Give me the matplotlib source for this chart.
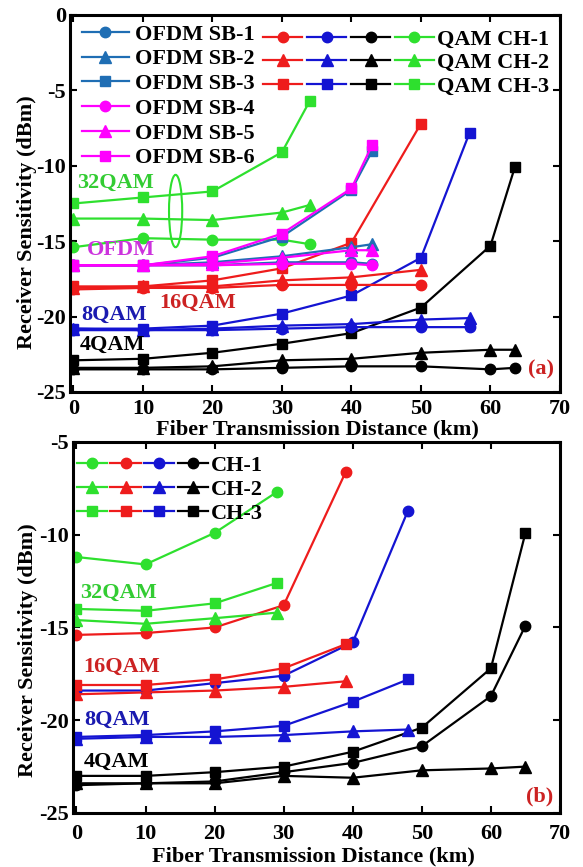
import matplotlib
matplotlib.use('Agg')
import matplotlib.pyplot as plt
from matplotlib.patches import Ellipse
from matplotlib.lines import Line2D
from matplotlib.legend_handler import HandlerTuple

plt.rcParams['font.family'] = ['Liberation Serif', 'DejaVu Serif']
plt.rcParams['font.weight'] = 'bold'
plt.rcParams['axes.unicode_minus'] = False

# ---------------- panel (a) ----------------
a_x_32qam = [0, 10, 20, 30, 34]
a_32qam_ch1 = [-15.4, -14.8, -14.9, -14.9, -15.2]
a_32qam_ch2 = [-13.5, -13.5, -13.6, -13.1, -12.6]
a_32qam_ch3 = [-12.5, -12.1, -11.7, -9.1, -5.7]

a_x_ofdm = [0, 10, 20, 30, 40, 43]
a_ofdm_sb1 = [-16.6, -16.6, -16.6, -16.4, -16.4, -16.5]
a_ofdm_sb2 = [-16.6, -16.6, -16.4, -16.0, -15.4, -15.2]
a_ofdm_sb3 = [-16.6, -16.6, -16.1, -14.7, -11.6, -9.0]
a_ofdm_sb4 = [-16.6, -16.6, -16.6, -16.5, -16.5, -16.6]
a_ofdm_sb5 = [-16.6, -16.6, -16.5, -16.1, -15.6, -15.6]
a_ofdm_sb6 = [-16.6, -16.6, -16.0, -14.5, -11.5, -8.6]

a_x_16qam = [0, 10, 20, 30, 40, 50]
a_16qam_ch1 = [-18.2, -18.1, -18.1, -17.9, -17.9, -17.9]
a_16qam_ch2 = [-18.1, -18.0, -18.0, -17.6, -17.4, -16.9]
a_16qam_ch3 = [-18.0, -18.0, -17.6, -16.8, -15.1, -7.2]

a_x_8qam = [0, 10, 20, 30, 40, 50, 57]
a_8qam_ch1 = [-20.9, -20.9, -20.9, -20.8, -20.7, -20.7, -20.7]
a_8qam_ch2 = [-20.8, -20.9, -20.8, -20.6, -20.5, -20.2, -20.1]
a_8qam_ch3 = [-20.8, -20.8, -20.6, -19.8, -18.6, -16.1, -7.8]

a_x_4qam = [0, 10, 20, 30, 40, 50, 60, 63.5]
a_4qam_ch1 = [-23.5, -23.5, -23.5, -23.4, -23.3, -23.3, -23.5, -23.4]
a_4qam_ch2 = [-23.4, -23.4, -23.3, -22.9, -22.8, -22.4, -22.2, -22.2]
a_4qam_ch3 = [-22.9, -22.8, -22.4, -21.8, -21.1, -19.4, -15.3, -10.1]

# ---------------- panel (b) ----------------
b_x_32qam = [0, 10, 20, 29]
b_32qam_ch1 = [-11.2, -11.6, -9.9, -7.7]
b_32qam_ch2 = [-14.6, -14.8, -14.5, -14.2]
b_32qam_ch3 = [-14.0, -14.1, -13.7, -12.6]

b_x_16qam = [0, 10, 20, 30, 39]
b_16qam_ch1 = [-15.4, -15.3, -15.0, -13.8, -6.6]
b_16qam_ch2 = [-18.6, -18.5, -18.4, -18.2, -17.9]
b_16qam_ch3 = [-18.1, -18.1, -17.8, -17.2, -15.9]

b_x_8qam = [0, 10, 20, 30, 40, 48]
b_8qam_ch1 = [-18.4, -18.4, -18.0, -17.6, -15.8, -8.7]
b_8qam_ch2 = [-21.0, -20.9, -20.9, -20.8, -20.6, -20.5]
b_8qam_ch3 = [-20.9, -20.8, -20.6, -20.3, -19.0, -17.8]

b_x_4qam = [0, 10, 20, 30, 40, 50, 60, 65]
b_4qam_ch1 = [-23.5, -23.4, -23.3, -22.8, -22.3, -21.4, -18.7, -14.9]
b_4qam_ch2 = [-23.4, -23.4, -23.4, -23.0, -23.1, -22.7, -22.6, -22.5]
b_4qam_ch3 = [-23.0, -23.0, -22.8, -22.5, -21.7, -20.4, -17.2, -9.9]

x_ticks = [0, 10, 20, 30, 40, 50, 60, 70]
a_y_ticks = [-25, -20, -15, -10, -5, 0]
b_y_ticks = [-25, -20, -15, -10, -5]

# colours
GREEN = '#2EE02E'
RED = '#EE1C1C'
BLUE = '#1414D2'
BLACK = '#000000'
SBLUE = '#1F6EB4'
MAGENTA = '#FF00FF'
markers = ['o', '^', 's']
ms = {'o': 7.5, '^': 8, 's': 7}


def draw(ax, x, y, color, marker):
    return ax.plot(x, y, color=color, marker=marker, ms=ms[marker], lw=1.6,
                   mec=color, mfc=color)[0]


def style_axes(ax, yticks, ylim, xpad):
    ax.set_xlim(-0.5, 70)
    ax.set_ylim(*ylim)
    ax.set_xticks(x_ticks)
    ax.set_yticks(yticks)
    ax.tick_params(direction='in', length=5, width=1.5, top=True, right=True,
                   labelsize=16, pad=3)
    ax.tick_params(axis='x', pad=xpad)
    for s in ax.spines.values():
        s.set_linewidth(2.2)
    ax.set_xlabel('Fiber Transmission Distance (km)', fontsize=16, fontweight='bold')
    ax.set_ylabel('Receiver Sensitivity (dBm)', fontsize=16, fontweight='bold')
    ax.xaxis.label.set_va('center')
    ax.yaxis.label.set_va('center')


fig = plt.figure(figsize=(5.83, 8.67), dpi=100)
ax1 = fig.add_axes([0.120, 0.5479, 0.8405, 0.4348])
ax2 = fig.add_axes([0.1252, 0.0623, 0.8353, 0.4279])

# ---- (a) ----
for y, m in zip([a_4qam_ch1, a_4qam_ch2, a_4qam_ch3], markers):
    draw(ax1, a_x_4qam, y, BLACK, m)
for y, m in zip([a_8qam_ch1, a_8qam_ch2, a_8qam_ch3], markers):
    draw(ax1, a_x_8qam, y, BLUE, m)
for y, m in zip([a_16qam_ch1, a_16qam_ch2, a_16qam_ch3], markers):
    draw(ax1, a_x_16qam, y, RED, m)
for y, m in zip([a_32qam_ch1, a_32qam_ch2, a_32qam_ch3], markers):
    draw(ax1, a_x_32qam, y, GREEN, m)
for y, m in zip([a_ofdm_sb1, a_ofdm_sb2, a_ofdm_sb3], markers):
    draw(ax1, a_x_ofdm, y, SBLUE, m)
for y, m in zip([a_ofdm_sb4, a_ofdm_sb5, a_ofdm_sb6], markers):
    draw(ax1, a_x_ofdm, y, MAGENTA, m)

style_axes(ax1, a_y_ticks, (-25, 0), xpad=5)
ax1.xaxis.set_label_coords(0.505, -0.099)
ax1.yaxis.set_label_coords(-0.088, 0.45)

ax1.add_patch(Ellipse((14.7, -13.0), 1.9, 4.8, fill=False, ec=GREEN, lw=1.5))
lbl = dict(fontsize=16, fontweight='bold', ha='left', va='center')
ax1.text(0.6, -11.15, '32QAM', color='#33CC33', **lbl)
ax1.text(1.9, -15.6, 'OFDM', color='#CC33DD', **lbl)
ax1.text(12.4, -19.1, '16QAM', color='#CC2222', **lbl)
ax1.text(1.1, -19.9, '8QAM', color='#1A1AB0', **lbl)
ax1.text(0.9, -21.9, '4QAM', color=BLACK, **lbl)
ax1.text(67.2, -23.5, '(a)', color='#CC2222', fontsize=16, fontweight='bold',
         ha='center', va='center')

ofdm_names = ['OFDM SB-%d' % i for i in range(1, 7)]
ofdm_cols = [SBLUE] * 3 + [MAGENTA] * 3
ofdm_handles = [Line2D([], [], color=c, marker=m, ms=ms[m], lw=1.6)
                for c, m in zip(ofdm_cols, markers * 2)]
leg1 = ax1.legend(ofdm_handles, ofdm_names, loc='upper left',
                  bbox_to_anchor=(0.0245, 0.976), frameon=False, fontsize=16,
                  handlelength=2.1, handletextpad=0.3, labelspacing=0.19,
                  borderpad=0, borderaxespad=0)
ax1.add_artist(leg1)

qam_names = ['QAM CH-1', 'QAM CH-2', 'QAM CH-3']
qam_handles = [tuple(Line2D([], [], color=c, marker=m, ms=ms[m], lw=1.6)
                     for c in [RED, BLUE, BLACK, GREEN]) for m in markers]
ax1.legend(qam_handles, qam_names, loc='upper left',
           bbox_to_anchor=(0.394, 0.963), frameon=False, fontsize=16,
           handlelength=7.7, handletextpad=0.15, labelspacing=0.13,
           borderpad=0, borderaxespad=0,
           handler_map={tuple: HandlerTuple(ndivide=None, pad=0.2)})

# ---- (b) ----
for y, m in zip([b_4qam_ch1, b_4qam_ch2, b_4qam_ch3], markers):
    draw(ax2, b_x_4qam, y, BLACK, m)
for y, m in zip([b_8qam_ch1, b_8qam_ch2, b_8qam_ch3], markers):
    draw(ax2, b_x_8qam, y, BLUE, m)
for y, m in zip([b_16qam_ch1, b_16qam_ch2, b_16qam_ch3], markers):
    draw(ax2, b_x_16qam, y, RED, m)
for y, m in zip([b_32qam_ch1, b_32qam_ch2, b_32qam_ch3], markers):
    draw(ax2, b_x_32qam, y, GREEN, m)

style_axes(ax2, b_y_ticks, (-25, -5), xpad=8)
ax2.xaxis.set_label_coords(0.494, -0.116)
ax2.yaxis.set_label_coords(-0.092, 0.44)

ax2.text(0.6, -13.15, '32QAM', color='#33CC33', **lbl)
ax2.text(1.0, -17.1, '16QAM', color='#CC2222', **lbl)
ax2.text(1.1, -20.0, '8QAM', color='#1A1AB0', **lbl)
ax2.text(1.0, -22.25, '4QAM', color=BLACK, **lbl)
ax2.text(67.0, -24.1, '(b)', color='#CC2222', fontsize=16, fontweight='bold',
         ha='center', va='center')

ch_names = ['CH-1', 'CH-2', 'CH-3']
ch_handles = [tuple(Line2D([], [], color=c, marker=m, ms=ms[m], lw=1.6)
                    for c in [GREEN, RED, BLUE, BLACK]) for m in markers]
ax2.legend(ch_handles, ch_names, loc='upper left',
           bbox_to_anchor=(0.008, 0.965), frameon=False, fontsize=16,
           handlelength=5.9, handletextpad=0.15, labelspacing=0.16,
           borderpad=0, borderaxespad=0,
           handler_map={tuple: HandlerTuple(ndivide=None, pad=0.15)})

fig.savefig('out.png', dpi=100)
